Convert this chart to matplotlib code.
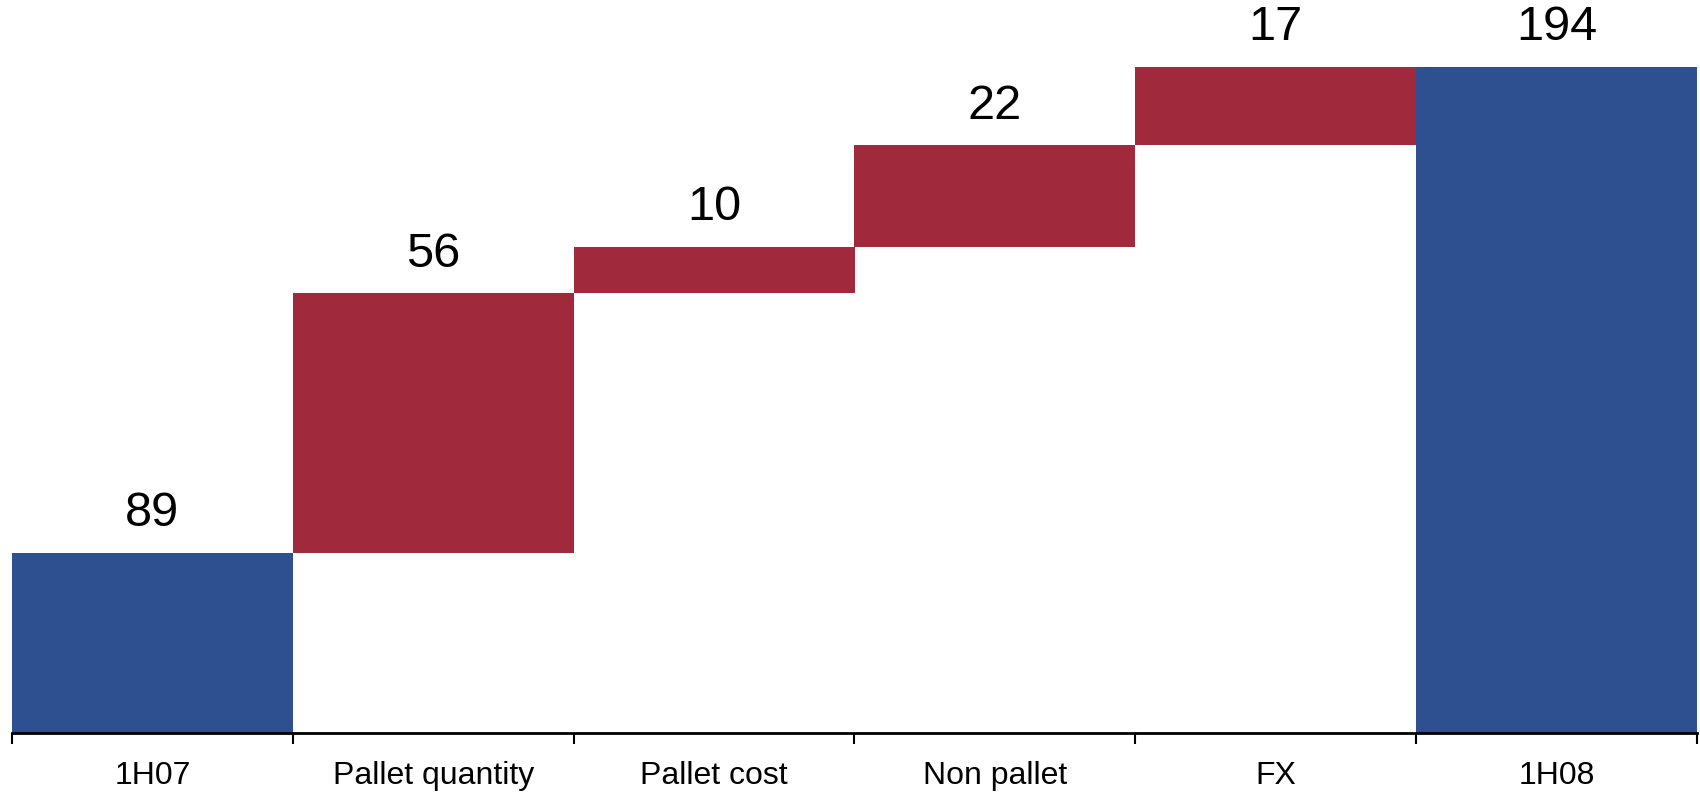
import numpy as np
import matplotlib
matplotlib.use('Agg')
import matplotlib.pyplot as plt

# ─── Datos del puente 1H07 → 1H08 ────────────────────────────────────────────
CATEGORIAS = ["1H07", "Pallet quantity", "Pallet cost", "Non pallet", "FX", "1H08"]
VALORES    = [89, 56, 10, 22, 17, 194]
TIPOS      = ["total", "delta", "delta", "delta", "delta", "total"]

AZUL = "#2E5090"
ROJO = "#A0293B"

plt.rcParams["font.family"] = ["Liberation Sans", "DejaVu Sans"]

fig = plt.figure(figsize=(17, 7.95), dpi=100)
ax = fig.add_axes([12 / 1700, 62 / 795, 1685 / 1700, 733 / 795])

# ─── Barras flotantes ────────────────────────────────────────────────────────
x = np.arange(len(CATEGORIAS))
acumulado = 0
bases, alturas, colores = [], [], []
for v, t in zip(VALORES, TIPOS):
    if t == "total":
        bases.append(0)
        alturas.append(v)
        colores.append(AZUL)
        acumulado = v
    else:
        bases.append(acumulado)
        alturas.append(v)
        colores.append(ROJO)
        acumulado += v

ax.bar(x, alturas, bottom=bases, width=1.0, color=colores, linewidth=0)

for xi, b, h, v in zip(x, bases, alturas, VALORES):
    ax.annotate(f"{v}", (xi, b + h), xytext=(0, 12), textcoords="offset points",
                ha="center", va="bottom", fontsize=35, annotation_clip=False)

# ─── Ejes ────────────────────────────────────────────────────────────────────
ax.set_xlim(-0.5, len(CATEGORIAS) - 0.5)
ax.set_ylim(50, 208.4)
for s in ("top", "right", "left"):
    ax.spines[s].set_visible(False)
ax.spines["bottom"].set_linewidth(2)
ax.set_yticks([])

ax.set_xticks(np.arange(len(CATEGORIAS) + 1) - 0.5)
ax.set_xticklabels([])
ax.tick_params(axis="x", which="major", direction="out", length=8, width=1.5)
ax.set_xticks(x, minor=True)
ax.set_xticklabels(CATEGORIAS, minor=True, fontsize=23)
ax.tick_params(axis="x", which="minor", length=0, pad=20)

fig.savefig("out.png", dpi=100, facecolor="white")
